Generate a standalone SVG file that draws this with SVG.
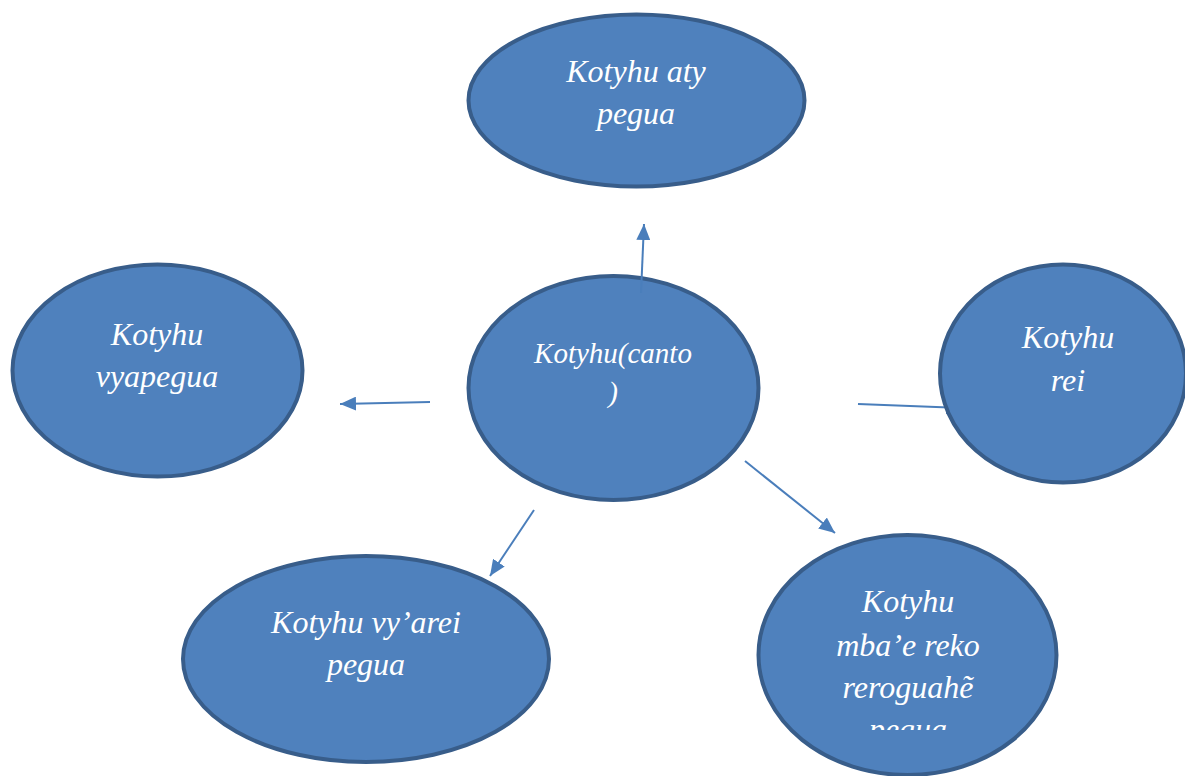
<svg xmlns="http://www.w3.org/2000/svg" width="1185" height="776" viewBox="0 0 1185 776">
<style>
.node ellipse{fill:#4f81bd;stroke:#385d8a;stroke-width:4}
.node text{fill:#ffffff;font-family:"Liberation Serif","Times New Roman",serif;font-style:italic;font-size:32px;text-anchor:middle}
.node text.small{font-size:29px}
.conn line{stroke:#4a7ebb;stroke-width:2;fill:none}
</style>
<defs>
<marker id="arrow" markerUnits="userSpaceOnUse" markerWidth="16" markerHeight="14" refX="16" refY="7" orient="auto">
<path d="M0,0 L16,7 L0,14 z" fill="#4a7ebb"/>
</marker>
<clipPath id="clipBR"><rect x="757" y="533" width="302" height="197"/></clipPath>
</defs>
<rect width="1185" height="776" fill="#ffffff"/>
<g id="node-center" class="node">
<ellipse cx="613.5" cy="388" rx="145" ry="112"/>
<text class="small" x="613" y="363">Kotyhu(canto</text>
<text class="small" x="613" y="402">)</text>
</g>
<g id="node-top" class="node">
<ellipse cx="636.5" cy="100.5" rx="168" ry="86"/>
<text x="636" y="82">Kotyhu aty</text>
<text x="636" y="124">pegua</text>
</g>
<g id="node-left" class="node">
<ellipse cx="157.5" cy="370.5" rx="145" ry="106"/>
<text x="157" y="345">Kotyhu</text>
<text x="157" y="387">vyapegua</text>
</g>
<g id="node-bottom-left" class="node">
<ellipse cx="366" cy="659" rx="183" ry="103"/>
<text x="366" y="633">Kotyhu vy’arei</text>
<text x="366" y="675">pegua</text>
</g>
<g id="node-bottom-right" class="node">
<ellipse cx="907.5" cy="655" rx="149" ry="120"/>
<g clip-path="url(#clipBR)">
<text x="908" y="612">Kotyhu</text>
<text x="908" y="656">mba’e reko</text>
<text x="908" y="698">reroguahẽ</text>
<text x="908" y="740">pegua</text>
</g>
</g>
<g id="connectors" class="conn">
<line x1="641" y1="293" x2="644" y2="224" marker-end="url(#arrow)"/>
<line x1="430" y1="402" x2="340" y2="404" marker-end="url(#arrow)"/>
<line x1="534" y1="510" x2="490" y2="576" marker-end="url(#arrow)"/>
<line x1="745" y1="461" x2="835" y2="533" marker-end="url(#arrow)"/>
<line x1="858" y1="404" x2="962" y2="408" marker-end="url(#arrow)"/>
</g>
<g id="node-right" class="node">
<ellipse cx="1063" cy="373.5" rx="123" ry="109"/>
<text x="1068" y="348">Kotyhu</text>
<text x="1068" y="391">rei</text>
</g>
</svg>
